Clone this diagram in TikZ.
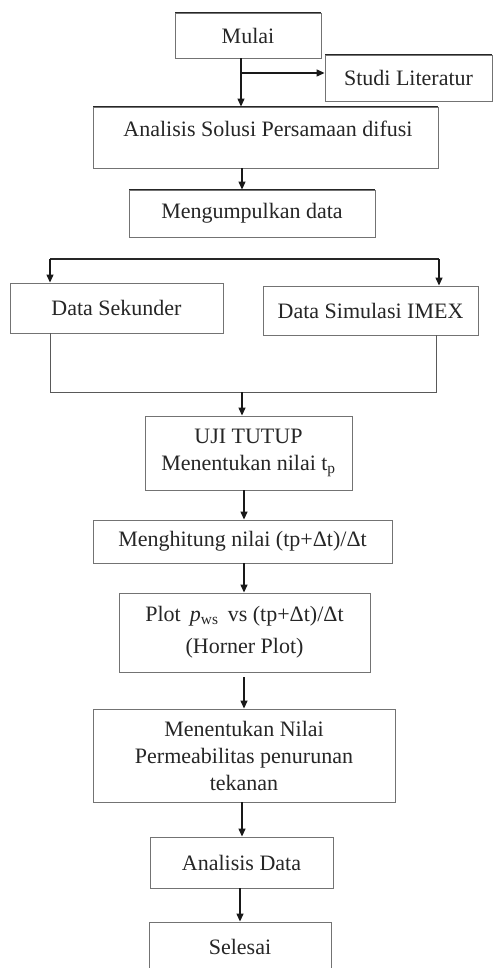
\documentclass[tikz,border=0pt]{standalone}
\usepackage{fontspec}
\setmainfont{Liberation Serif}
\usetikzlibrary{arrows.meta}
\tikzset{
  x=1pt, y=-1pt,
  box/.style={draw=black!55, line width=0.9pt, inner sep=0pt, align=center,
    font=\fontsize{22}{27}\selectfont, text=black!85,
    path picture={\draw[line width=2.6pt, black!85]
      (path picture bounding box.south west) -- (path picture bounding box.north west)
      -- (path picture bounding box.north east);}},
  txt/.style={inner sep=0pt, align=center, font=\fontsize{22}{27}\selectfont, text=black!85},
  arr/.style={draw=black!90, line width=1.3pt, -{Triangle[length=8pt,width=7pt]}},
  ln/.style={draw=black!65, line width=0.9pt},
  hl/.style={draw=black!85, line width=1.2pt}
}
\begin{document}
\begin{tikzpicture}
\clip (0,0) rectangle (494,968);
\fill[white] (0,0) rectangle (494,968);
% boxes
\node[box, minimum width=146, minimum height=45] (mulai) at (248,35.5) {Mulai};
\node[box, minimum width=167, minimum height=46] (studi) at (408.5,78) {Studi Literatur};
\node[box, minimum width=345, minimum height=61] (ana) at (265.5,137.5) {};
\node[txt] (anat) at (268,129) {Analisis Solusi Persamaan difusi};
\node[box, minimum width=246, minimum height=47] (meng) at (252,213.5) {Mengumpulkan data};
\node[box, minimum width=213, minimum height=50] (ds) at (116.5,308) {Data Sekunder};
\node[box, minimum width=215, minimum height=49] (imex) at (370.5,310.5) {Data Simulasi IMEX};
\node[box, minimum width=207, minimum height=74] (uji) at (248.5,453) {UJI TUTUP\\Menentukan nilai t\textsubscript{p}};
\node[box, minimum width=299, minimum height=43] (hit) at (242.5,541.5) {Menghitung nilai (tp+Δt)/Δt};
\node[box, minimum width=251, minimum height=79] (plot) at (244.5,632.5) {Plot \,\textit{p}\textsubscript{ws}\, vs (tp+Δt)/Δt\\[5pt](Horner Plot)};
\node[box, minimum width=302, minimum height=93] (men) at (244,755.5) {Menentukan Nilai\\Permeabilitas penurunan\\tekanan};
\node[box, minimum width=183, minimum height=51] (anad) at (241.5,862.5) {Analisis Data};
\node[box, minimum width=182, minimum height=50] (sel) at (240,947) {Selesai};
% junction coordinates
\coordinate (j1) at (241,73);
\coordinate (s1) at (50,259);
\coordinate (s2) at (439,259);
\coordinate (m1) at (50,392);
\coordinate (m2) at (436,392);
\coordinate (m3) at (242,392);
% connectors
\draw[arr] (mulai.south -| j1) -- (ana.north -| j1);
\draw[arr] (j1) -- (studi.west |- j1);
\draw[arr] (ana.south -| 242,0) -- (meng.north -| 242,0);
\draw[hl] (s1) -- (s2);
\draw[arr] (s1) -- (ds.north -| s1);
\draw[arr] (s2) -- (imex.north -| s2);
\draw[ln] (ds.south -| m1) -- (m1) -- (m2) -- (imex.south -| m2);
\draw[arr] (m3) -- (uji.north -| m3);
\draw[arr] (uji.south -| 244,0) -- (hit.north -| 244,0);
\draw[arr] (hit.south -| 244,0) -- (plot.north -| 244,0);
\draw[arr, shorten <=5pt] (plot.south -| 244,0) -- (men.north -| 244,0);
\draw[arr] (men.south -| 242,0) -- (anad.north -| 242,0);
\draw[arr] (anad.south -| 240,0) -- (sel.north -| 240,0);
\end{tikzpicture}
\end{document}
